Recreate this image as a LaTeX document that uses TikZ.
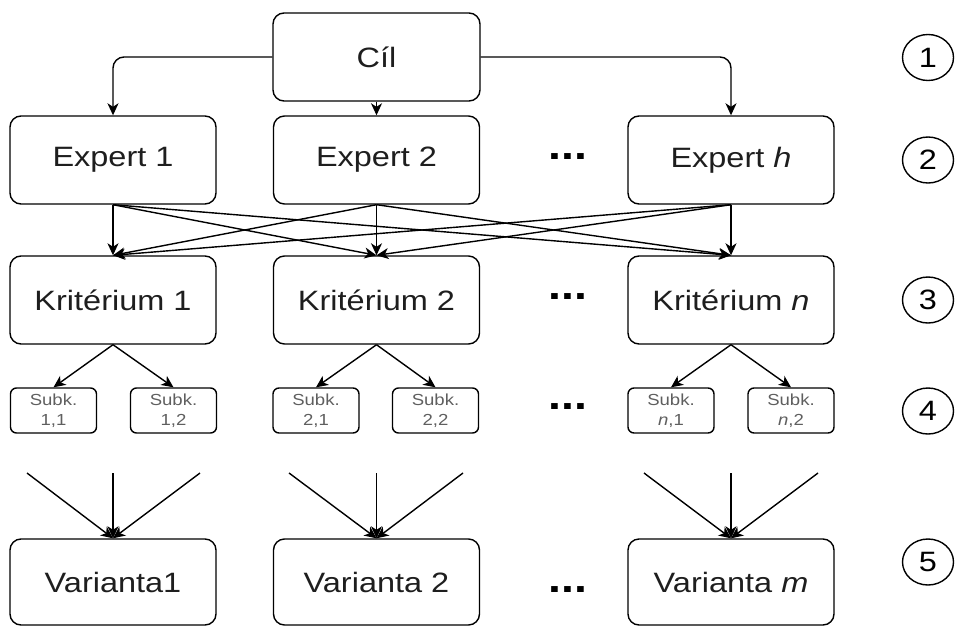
\documentclass[tikz,border=0pt]{standalone}
\usepackage{fontspec}
\usepackage{graphicx}
\setmainfont{Liberation Sans}
\usetikzlibrary{arrows.meta,shapes.geometric}
% slightly widened lettering
\newcommand\xs[1]{\scalebox{1.16}[1]{#1}}
\definecolor{txt}{RGB}{30,30,30}
\definecolor{subtxt}{RGB}{95,95,95}
\tikzset{
  box/.style={draw, line width=1.4pt, rounded corners=11pt, minimum width=206pt,
    minimum height=88pt, inner sep=0pt, text=txt, font=\fontsize{28}{32}\selectfont},
  subbox/.style={draw, line width=1.4pt, rounded corners=6pt, minimum width=86pt,
    minimum height=45pt, inner sep=0pt, text=subtxt, align=center,
    font=\fontsize{16}{19.5}\selectfont},
  level/.style={draw, line width=1.4pt, ellipse, minimum width=51pt, minimum height=46pt,
    inner sep=0pt, font=\fontsize{28}{32}\selectfont},
  dots/.style={font=\bfseries\fontsize{40}{40}\selectfont, inner sep=0pt},
  link/.style={line width=1.4pt, -{Stealth[length=12pt,width=11pt,inset=3.5pt]}},
}
\begin{document}
\begin{tikzpicture}[x=1pt,y=-1pt]
\useasboundingbox (0,0) rectangle (955,626);

% goal
\node[box, minimum width=207pt] (cil) at (376.5,57) {\xs{Cíl}};

% experts
\node[box] (e1) at (113,160) {\xs{Expert 1}};
\node[box] (e2) at (376.5,160) {\xs{Expert 2}};
\node[box] (eh) at (731,160) {\xs{Expert \textit{h}}};

% criteria
\node[box] (k1) at (113,300) {\xs{Kritérium 1}};
\node[box] (k2) at (376.5,300) {\xs{Kritérium 2}};
\node[box] (kn) at (731,300) {\xs{Kritérium \textit{n}}};

% sub-criteria
\node[subbox] (s11) at (53.5,410.5) {\xs{Subk.}\\\xs{1,1}};
\node[subbox] (s12) at (173.5,410.5) {\xs{Subk.}\\\xs{1,2}};
\node[subbox] (s21) at (316,410.5) {\xs{Subk.}\\\xs{2,1}};
\node[subbox] (s22) at (435.5,410.5) {\xs{Subk.}\\\xs{2,2}};
\node[subbox] (sn1) at (671,410.5) {\xs{Subk.}\\\xs{\textit{n},1}};
\node[subbox] (sn2) at (791,410.5) {\xs{Subk.}\\\xs{\textit{n},2}};

% variants
\node[box, minimum height=86pt] (v1) at (113,582) {\xs{Varianta1}};
\node[box, minimum height=86pt] (v2) at (376.5,582) {\xs{Varianta 2}};
\node[box, minimum height=86pt] (vm) at (731,582) {\xs{Varianta \textit{m}}};

% ellipsis marks
\node[dots] (d2) at (568,157) {\xs{...}};
\node[dots] (d3) at (568,297) {\xs{...}};
\node[dots] (d4) at (568,407) {\xs{...}};
\node[dots] (d5) at (568,590) {\xs{...}};

% level numbers
\node[level] (l1) at (928,57.5) {\xs{1}};
\node[level] (l2) at (928,160) {\xs{2}};
\node[level] (l3) at (928,300) {\xs{3}};
\node[level] (l4) at (928,411) {\xs{4}};
\node[level] (l5) at (928,562) {\xs{5}};

% goal -> experts
\draw[link, rounded corners=11pt] (cil.west) -| (e1.north);
\draw[link] (cil.south) -- (e2.north);
\draw[link, rounded corners=11pt] (cil.east) -| (eh.north);

% experts -> criteria
\foreach \e in {e1,e2,eh}
  \foreach \k in {k1,k2,kn}
    \draw[link] (\e.south) -- (\k.north);

% criteria -> sub-criteria
\draw[link] (k1.south) -- (s11.north);
\draw[link] (k1.south) -- (s12.north);
\draw[link] (k2.south) -- (s21.north);
\draw[link] (k2.south) -- (s22.north);
\draw[link] (kn.south) -- (sn1.north);
\draw[link] (kn.south) -- (sn2.north);

% incoming links of the variants
\coordinate (a1) at (27,473);   \coordinate (b1) at (113,473);   \coordinate (c1) at (200,473);
\coordinate (a2) at (289,473);  \coordinate (b2) at (376.5,473); \coordinate (c2) at (463,473);
\coordinate (a3) at (644,473);  \coordinate (b3) at (731,473);   \coordinate (c3) at (818,473);
\foreach \p in {a1,b1,c1} \draw[link] (\p) -- (v1.north);
\foreach \p in {a2,b2,c2} \draw[link] (\p) -- (v2.north);
\foreach \p in {a3,b3,c3} \draw[link] (\p) -- (vm.north);
\end{tikzpicture}
\end{document}
